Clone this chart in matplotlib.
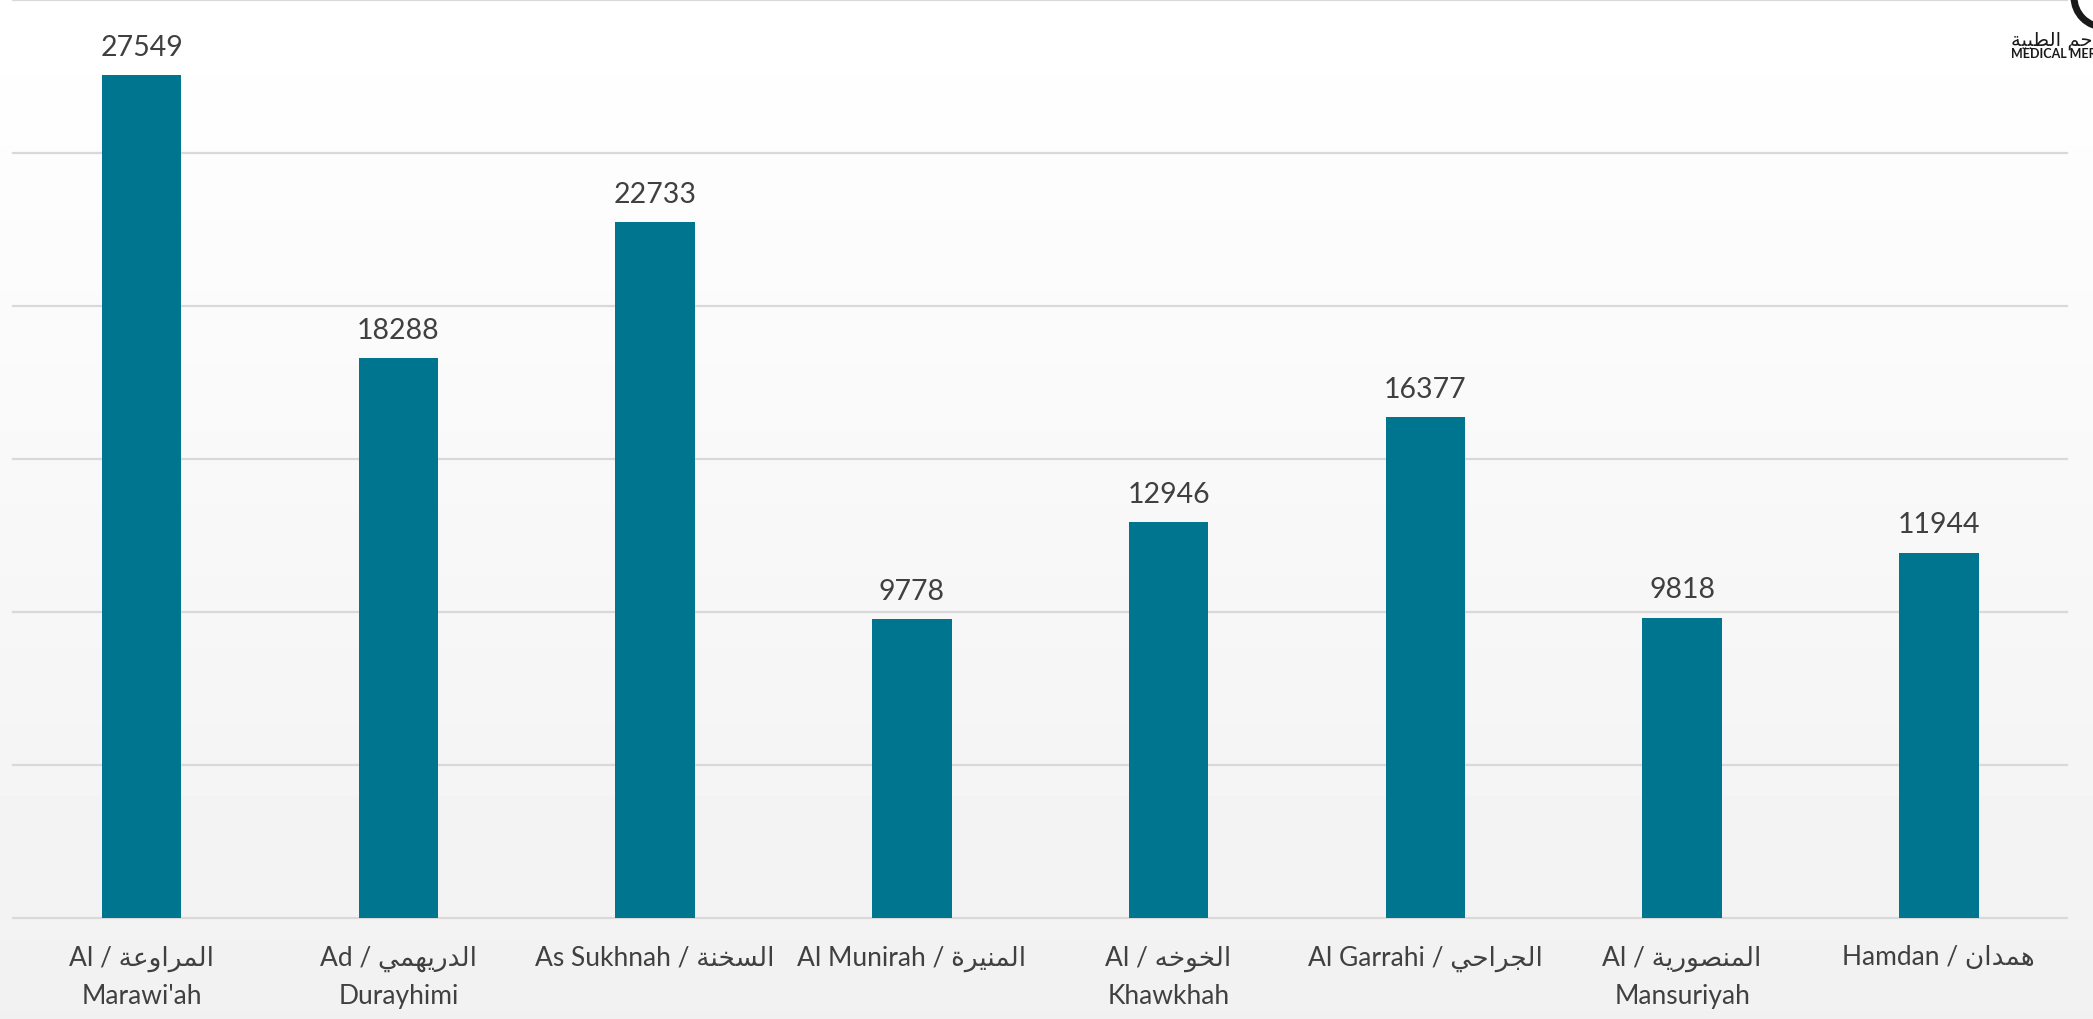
import numpy as np
import matplotlib.pyplot as plt
from matplotlib.patches import Circle

# data
names_en = ["Al Marawi'ah", "Ad Durayhimi", "As Sukhnah", "Al Munirah",
            "Al Khawkhah", "Al Garrahi", "Al Mansuriyah", "Hamdan"]
names_ar = ["المراوعة", "الدريهمي", "السخنة", "المنيرة",
            "الخوخه", "الجراحي", "المنصورية", "همدان"]
values = [27549, 18288, 22733, 9778, 12946, 16377, 9818, 11944]
wrap = [True, True, False, False, True, False, True, False]

# matplotlib has no arabic shaping, so pick presentation forms by hand
FORMS = {'ا': (0xFE8D, False), 'ة': (0xFE93, False), 'ب': (0xFE8F, True),
         'ج': (0xFE9D, True), 'ح': (0xFEA1, True), 'خ': (0xFEA5, True),
         'د': (0xFEA9, False), 'ر': (0xFEAD, False), 'س': (0xFEB1, True),
         'ص': (0xFEB9, True), 'ط': (0xFEC1, True), 'ع': (0xFEC9, True),
         'ل': (0xFEDD, True), 'م': (0xFEE1, True), 'ن': (0xFEE5, True),
         'ه': (0xFEE9, True), 'و': (0xFEED, False), 'ي': (0xFEF1, True)}


def shape_word(word):
    out = []
    for i, ch in enumerate(word):
        base, dual = FORMS[ch]
        prev_joins = i > 0 and FORMS[word[i - 1]][1]
        next_joins = dual and i < len(word) - 1
        if prev_joins and next_joins:
            code = base + 3
        elif prev_joins:
            code = base + 1
        elif next_joins:
            code = base + 2
        else:
            code = base
        out.append(chr(code))
    return ''.join(reversed(out))


def shape(text):
    return ' '.join(shape_word(w) for w in reversed(text.split()))


labels = []
for en, ar, w in zip(names_en, names_ar, wrap):
    if w:
        first, rest = en.split(' ', 1)
        labels.append(f"{first} / {shape(ar)}\n{rest}")
    else:
        labels.append(f"{en} / {shape(ar)}")

fonts = ['Lato', 'DejaVu Sans']
plt.rcParams['font.family'] = fonts

fig = plt.figure(figsize=(20.93, 10.20), dpi=100)

# gradient background
bg = fig.add_axes([0, 0, 1, 1], zorder=-1)
grad = np.linspace(1.0, 0.945, 256).reshape(-1, 1)
bg.imshow(grad, aspect='auto', cmap='gray', vmin=0, vmax=1, extent=[0, 1, 0, 1])
bg.axis('off')

ax = fig.add_axes([0.00636, 0.099, 0.9813, 0.900])
ax.set_facecolor('none')
x = np.arange(len(values))
bars = ax.bar(x, values, width=0.31, color='#00758F', zorder=3)
ax.bar_label(bars, padding=11, fontsize=20.5, color='#404040')

ax.set_ylim(0, 30000)
ax.set_xlim(-0.5, len(values) - 0.5)
for yv in range(0, 30001, 5000):
    ax.axhline(yv, color='#d9d9d9', lw=1.6, zorder=1, clip_on=False)

ax.set_xticks(x)
ax.set_xticklabels(labels, fontsize=19, color='#404040', linespacing=1.6)
ax.tick_params(axis='x', length=0, pad=19)
ax.set_yticks([])
for s in ax.spines.values():
    s.set_visible(False)

# logo, cut off at the top right corner like in the source
fig.patches.append(Circle((2104, 1022), 30, transform=None, fill=False,
                          lw=5, edgecolor='#1a1a1a'))
fig.text(2011 / 2093, 1 - 41 / 1020, shape("المراحم الطبية"), fontsize=14,
         family=['DejaVu Sans'], color='#1a1a1a', va='center', ha='left')
fig.text(2011 / 2093, 1 - 54 / 1020, "MEDICAL MERCY", fontsize=9,
         fontweight='bold', color='#1a1a1a', va='center', ha='left')

plt.savefig('out.png', dpi=100)
